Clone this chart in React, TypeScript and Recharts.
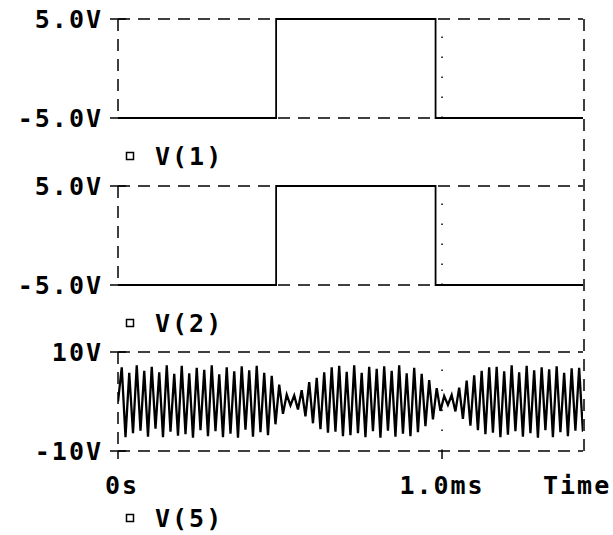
import React from 'react';
import { LineChart, Line, XAxis, YAxis, ReferenceLine, Legend } from 'recharts';

// time axis (ms)
const timeDomain: [number, number] = [0, 1.435];
const timeTicks = [0, 1.0];
const timeTickLabels = ['0s', '1.0ms'];

// square inputs V(1) and V(2)
const squareTimes = [0, 0.488, 0.488, 0.98, 0.98, 1.435];
const v1Values = [-5, -5, 5, 5, -5, -5];
const v2Values = [-5, -5, 5, 5, -5, -5];
const squareTicks = [-5, 5];
const squareTickLabels = ['-5.0V', '5.0V'];

// output V(5), one sample per half period
const v5Step = 0.01157;
const v5Values = [
  0, 6.9, -7.2, 5.8, -6.4, 7.3, -5.9, 6.2, -7.1, 7.0,
  -5.5, 5.9, -7.2, 7.3, -6.1, 5.6, -6.9, 7.2, -6.6, 5.7,
  -7.3, 6.8, -5.8, 6.4, -7.0, 7.3, -6.0, 5.5, -7.2, 6.9,
  -6.5, 6.1, -7.3, 7.1, -5.7, 6.3, -7.1, 7.2, -6.2, 5.8,
  -6.8, 5.2, -4.6, 3.4, -2.5, 1.4, -0.8, 1.2, -1.6, 2.3,
  -3.0, 3.9, -4.4, 4.8, -5.6, 5.9, -6.3, 6.9, -6.1, 7.2,
  -7.0, 6.0, -6.8, 7.3, -6.4, 5.8, -7.2, 7.0, -6.0, 6.6,
  -7.3, 7.1, -5.9, 6.2, -7.1, 7.3, -6.5, 5.7, -7.0, 6.8,
  -6.2, 5.6, -5.0, 4.3, -3.6, 2.7, -1.9, 1.1, -0.7, 1.3,
  -2.0, 2.8, -3.5, 4.2, -4.9, 5.3, -5.8, 6.2, -6.6, 6.9,
  -6.3, 7.0, -7.2, 6.1, -6.7, 7.3, -6.0, 5.9, -7.1, 7.2,
  -6.4, 6.3, -7.3, 6.9, -5.8, 6.5, -7.2, 7.1, -6.2, 5.8,
  -7.0, 6.7, -5.9, 6.8, -6.1,
];
const v5Ticks = [-10, 10];
const v5TickLabels = ['-10V', '10V'];

const FONT = '"DejaVu Sans Mono", monospace';
const DASH = '12 8';
const INK = '#000';

const textStyle = {
  fontFamily: FONT,
  fontSize: 25,
  fontWeight: 700,
  letterSpacing: 2,
  fill: INK,
};

const squareData = squareTimes.map((t, i) => ({ t, v1: v1Values[i], v2: v2Values[i] }));
const v5Data = v5Values.map((v, i) => ({ t: i * v5Step, v5: v }));

function makeYTick(ticks: number[], labels: string[]) {
  return (props: any) => {
    const { x, y, payload } = props;
    const label = labels[ticks.indexOf(payload.value)];
    return (
      <g>
        <line x1={x - 8} y1={y} x2={x + 8} y2={y} stroke={INK} strokeWidth={1.5} />
        <text x={x - 15} y={y} textAnchor="end" dominantBaseline="central" style={textStyle}>
          {label}
        </text>
      </g>
    );
  };
}

const timeTick = (props: any) => {
  const { x, y, payload } = props;
  const label = timeTickLabels[timeTicks.indexOf(payload.value)];
  const dx = payload.value === 0 ? 4 : 0;
  return (
    <g>
      <line x1={x} y1={y} x2={x} y2={y + 8} stroke={INK} strokeWidth={1.5} />
      <text x={x + dx} y={y + 34} textAnchor="middle" dominantBaseline="central" style={textStyle}>
        {label}
      </text>
    </g>
  );
};

const timeLabel = (props: any) => {
  const { x, y, width } = props.viewBox;
  return (
    <text x={x + width - 40} y={y + 34} dominantBaseline="central" style={textStyle}>
      Time
    </text>
  );
};

const legendContent = (props: any) => {
  const name = props.payload?.[0]?.value;
  return (
    <svg width={170} height={26} style={{ display: 'block', overflow: 'visible' }}>
      <rect x={4.5} y={9.5} width={7} height={7} fill="none" stroke={INK} strokeWidth={1.5} />
      <text x={33} y={13} dominantBaseline="central" style={textStyle}>
        {name}
      </text>
    </svg>
  );
};

const axisStyle = { stroke: INK, strokeWidth: 1.5, strokeDasharray: DASH };

function SquarePanel({ top, dataKey, name }: { top: number; dataKey: string; name: string }) {
  return (
    <div style={{ position: 'absolute', left: 0, top }}>
      <LineChart
        width={613}
        height={168}
        data={squareData}
        margin={{ top: 19, right: 30, left: 117, bottom: 49 }}
      >
        <XAxis
          type="number"
          dataKey="t"
          domain={timeDomain}
          allowDataOverflow
          ticks={timeTicks}
          tick={false}
          tickLine={false}
          height={1}
          axisLine={axisStyle}
        />
        <YAxis
          type="number"
          domain={[-5, 5]}
          ticks={squareTicks}
          interval={0}
          width={1}
          tickSize={0}
          tickMargin={0}
          tickLine={false}
          tick={makeYTick(squareTicks, squareTickLabels)}
          axisLine={axisStyle}
        />
        <ReferenceLine y={5} stroke={INK} strokeWidth={1.5} strokeDasharray={DASH} />
        <ReferenceLine x={1.0} stroke={INK} strokeWidth={1.5} strokeDasharray="1.5 18.5" />
        <Legend
          verticalAlign="middle"
          layout="horizontal"
          content={legendContent}
          wrapperStyle={{ top: 143, left: 122, width: 170, height: 26 }}
        />
        <Line
          type="linear"
          dataKey={dataKey}
          name={name}
          stroke={INK}
          strokeWidth={1.8}
          dot={false}
          isAnimationActive={false}
        />
      </LineChart>
    </div>
  );
}

export default function App() {
  return (
    <div
      style={{
        position: 'absolute',
        left: 0,
        top: 0,
        width: 613,
        height: 535,
        background: '#fff',
        overflow: 'hidden',
      }}
    >
      <SquarePanel top={0} dataKey="v1" name="V(1)" />
      <SquarePanel top={167} dataKey="v2" name="V(2)" />
      <div style={{ position: 'absolute', left: 0, top: 333 }}>
        <LineChart
          width={613}
          height={202}
          data={v5Data}
          margin={{ top: 19, right: 30, left: 117, bottom: 83 }}
        >
          <XAxis
            type="number"
            dataKey="t"
            domain={timeDomain}
            allowDataOverflow
            ticks={timeTicks}
            interval={0}
            height={1}
            tickSize={0}
            tickMargin={0}
            tickLine={false}
            tick={timeTick}
            label={timeLabel}
            axisLine={axisStyle}
          />
          <YAxis
            type="number"
            domain={[-10, 10]}
            ticks={v5Ticks}
            interval={0}
            width={1}
            tickSize={0}
            tickMargin={0}
            tickLine={false}
            tick={makeYTick(v5Ticks, v5TickLabels)}
            axisLine={axisStyle}
          />
          <ReferenceLine y={10} stroke={INK} strokeWidth={1.5} strokeDasharray={DASH} />
          <ReferenceLine x={1.0} stroke={INK} strokeWidth={1.5} strokeDasharray="1.5 18.5" />
          <Legend
            verticalAlign="middle"
            layout="horizontal"
            content={legendContent}
            wrapperStyle={{ top: 172, left: 122, width: 170, height: 26 }}
          />
          <Line
            type="linear"
            dataKey="v5"
            name="V(5)"
            stroke={INK}
            strokeWidth={2.3}
            dot={false}
            isAnimationActive={false}
          />
        </LineChart>
      </div>
      {/* right frame runs the full height of the stacked plots */}
      <svg
        width={613}
        height={535}
        style={{ position: 'absolute', left: 0, top: 0, pointerEvents: 'none' }}
      >
        <line x1={584} y1={19} x2={584} y2={457} stroke={INK} strokeWidth={1.5} strokeDasharray={DASH} />
      </svg>
    </div>
  );
}
